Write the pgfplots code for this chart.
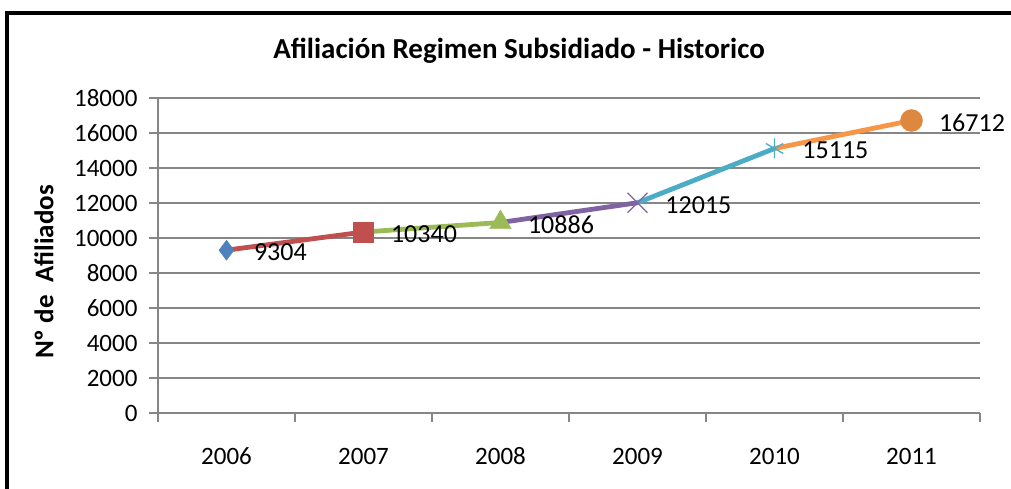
\documentclass[border=0pt]{standalone}
\usepackage{fontspec}
\setmainfont{Carlito}
\usepackage{pgfplots}
\pgfplotsset{compat=1.18}
\definecolor{xblue}{HTML}{4F81BD}
\definecolor{xred}{HTML}{C0504D}
\definecolor{xgreen}{HTML}{9BBB59}
\definecolor{xpurple}{HTML}{8064A2}
\definecolor{xaqua}{HTML}{4BACC6}
\definecolor{xorange}{HTML}{F79646}
\definecolor{xgrid}{HTML}{868686}
\begin{document}
\begin{tikzpicture}[x=1pt,y=1pt]
\useasboundingbox (0,0) rectangle (1011,489);
\clip (0,0) rectangle (1011,489);
\fill[white] (0,0) rectangle (1011,489);
\draw[line width=4.5pt,black] (7,-30) rectangle (1040,476);
\node[font=\fontsize{29}{32}\selectfont\bfseries,anchor=base] at (519,430) {Afiliación Regimen Subsidiado - Historico};
\node[font=\fontsize{27}{30}\selectfont\bfseries,rotate=90,anchor=center] at (44,217) {Nº de\ \ Afiliados};
\begin{axis}[
  at={(158pt,76pt)}, anchor=south west,
  scale only axis, width=822pt, height=315pt,
  xmin=-0.5, xmax=5.5, ymin=0, ymax=18000,
  axis x line*=bottom, axis y line*=left,
  axis line style={xgrid,line width=1.2pt},
  every tick/.style={xgrid,line width=1.2pt},
  tick align=outside, major tick length=9pt,
  ytick={0,2000,...,18000},
  scaled y ticks=false,
  xtick={-0.5,0.5,...,5.5},
  xticklabels={2006,2007,2008,2009,2010,2011},
  x tick label as interval,
  ymajorgrids,
  grid style={xgrid,line width=1.2pt},
  /pgf/number format/assume math mode=true,
  /pgf/number format/set thousands separator={},
  ticklabel style={font=\fontsize{25}{30}\selectfont},
  yticklabel style={xshift=-8pt},
  xticklabel style={text height=16.5pt,text depth=0pt,yshift=-22pt},
  clip=false,
]
\addplot[xred,line width=4.8pt] coordinates {(0,9304) (1,10340)};
\addplot[xgreen,line width=4.8pt] coordinates {(1,10340) (2,10886)};
\addplot[xpurple,line width=4.8pt] coordinates {(2,10886) (3,12015)};
\addplot[xaqua,line width=4.8pt] coordinates {(3,12015) (4,15115)};
\addplot[xorange,line width=4.8pt] coordinates {(4,15115) (5,16712)};
\pgfplotsset{lbl/.style={point meta=explicit symbolic, nodes near coords,
  every node near coord/.append style={font=\fontsize{26}{30}\selectfont,text=black,anchor=west,xshift=24pt,yshift=-2pt}}}
\addplot[only marks,mark=diamond*,mark size=10pt,color=xblue,lbl] coordinates {(0,9304)[9304]};
\addplot[only marks,mark=square*,mark size=10pt,color=xred,lbl] coordinates {(1,10340)[10340]};
\addplot[only marks,mark=triangle*,mark size=12.5pt,color=xgreen,lbl] coordinates {(2,10886)[10886]};
\addplot[only marks,mark=x,mark size=14pt,color=xpurple,mark options={line width=1.3pt},lbl] coordinates {(3,12015)[12015]};
\addplot[only marks,mark=asterisk,mark size=10pt,color=xaqua,mark options={line width=1.3pt},lbl] coordinates {(4,15115)[15115]};
\addplot[only marks,mark=*,mark size=11pt,color=xorange!90!black,lbl] coordinates {(5,16712)[16712]};
\end{axis}
\end{tikzpicture}
\end{document}
